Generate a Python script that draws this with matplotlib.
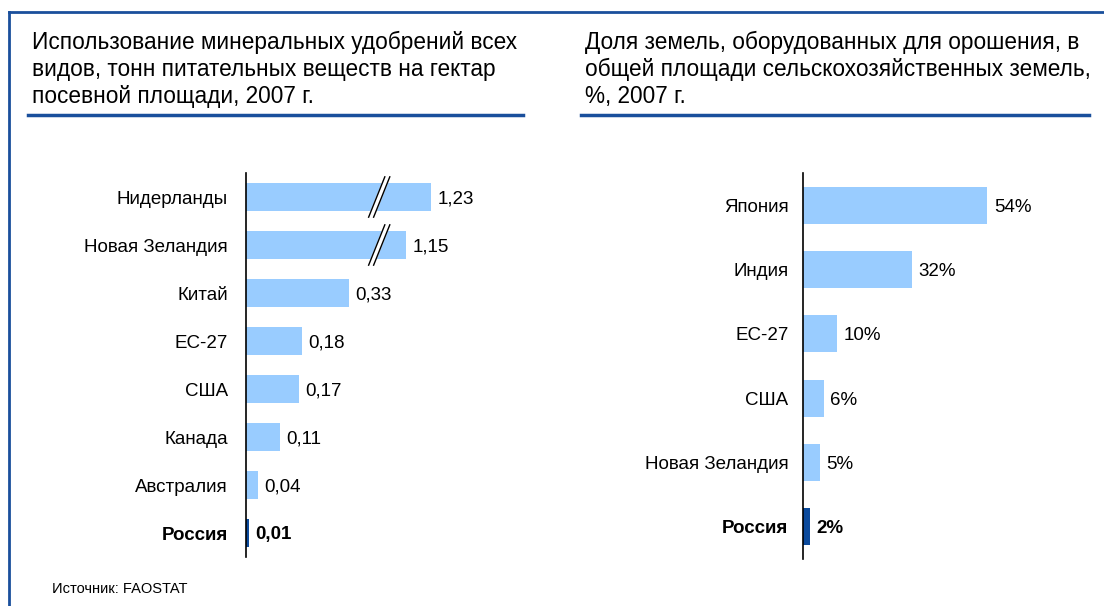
import numpy as np
import matplotlib.pyplot as plt
from matplotlib.lines import Line2D
from matplotlib.patches import Polygon

plt.rcParams['font.family'] = ['Liberation Sans', 'DejaVu Sans']

# data
left_title = ('Использование минеральных удобрений всех\n'
              'видов, тонн питательных веществ на гектар\n'
              'посевной площади, 2007 г.')
left_cats = ['Нидерланды', 'Новая Зеландия', 'Китай', 'ЕС-27', 'США',
             'Канада', 'Австралия', 'Россия']
left_vals = [1.23, 1.15, 0.33, 0.18, 0.17, 0.11, 0.04, 0.01]

right_title = ('Доля земель, оборудованных для орошения, в\n'
               'общей площади сельскохозяйственных земель,\n'
               '%, 2007 г.')
right_cats = ['Япония', 'Индия', 'ЕС-27', 'США', 'Новая Зеландия', 'Россия']
right_vals = [54, 32, 10, 6, 5, 2]

source = 'Источник: FAOSTAT'

# axis break for the long bars
break_above = 0.7
break_gap = 0.635
break_x = 0.42

light = '#99CCFF'
dark = '#0B4A9C'
frame_col = '#1A4F9C'
fs = 13.5

W, H = 1104, 606
fig = plt.figure(figsize=(W / 100, H / 100), dpi=100)


def px(x, y):
    return x / W, 1 - y / H


# frame and title underlines
fig.add_artist(Line2D([9 / W, 1], [1 - 12 / H] * 2, color=frame_col, lw=2))
fig.add_artist(Line2D([9 / W] * 2, [0, 1 - 12 / H], color=frame_col, lw=2))
fig.add_artist(Line2D([28 / W, 523 / W], [1 - 115 / H] * 2, color=frame_col, lw=2.5))
fig.add_artist(Line2D([581 / W, 1089 / W], [1 - 115 / H] * 2, color=frame_col, lw=2.5))

fig.text(*px(32, 31), left_title, fontsize=16.3, va='top', ha='left', linespacing=1.22)
fig.text(*px(585, 31), right_title, fontsize=16.3, va='top', ha='left', linespacing=1.22)
fig.text(*px(52, 589), source, fontsize=10.5, va='center', ha='left')


def hbar(ax, cats, shown, labels, height, pad):
    y = np.arange(len(cats))
    colors = [light] * (len(cats) - 1) + [dark]
    ax.barh(y, shown, height=height, color=colors)
    ax.set_ylim(len(cats) - 0.5, -0.5)
    ax.set_yticks(y)
    ax.set_yticklabels(cats, fontsize=fs, va='center_baseline')
    ax.tick_params(axis='y', length=0, pad=pad)
    ax.set_xticks([])
    for s in ['top', 'right', 'bottom']:
        ax.spines[s].set_visible(False)
    ax.spines['left'].set_linewidth(1.2)
    ax.spines['left'].set_zorder(3)
    ax.get_yticklabels()[-1].set_fontweight('bold')
    for i, (v, t) in enumerate(zip(shown, labels)):
        ax.annotate(t, (v, i), xytext=(4.5, 0), textcoords='offset points',
                    va='center_baseline', ha='left', fontsize=fs,
                    fontweight='bold' if i == len(cats) - 1 else 'normal')


# left chart
axl = fig.add_axes([246 / W, 49 / H, 249 / W, 384 / H])
axl.set_xlim(0, 0.8)
shown_l = [v - break_gap if v > break_above else v for v in left_vals]
labels_l = [f'{v:.2f}'.replace('.', ',') for v in left_vals]
hbar(axl, left_cats, shown_l, labels_l, 0.58, 13)
for i, v in enumerate(left_vals):
    if v > break_above:
        h = 0.42
        dx = 0.026
        g = 0.016
        x0 = break_x
        axl.add_patch(Polygon([(x0 - dx, i + h), (x0 + dx, i - h),
                               (x0 + dx + g, i - h), (x0 - dx + g, i + h)],
                              closed=True, color='white', zorder=4))
        axl.plot([x0 - dx, x0 + dx], [i + h, i - h], color='black', lw=1, zorder=5)
        axl.plot([x0 - dx + g, x0 + dx + g], [i + h, i - h], color='black', lw=1, zorder=5)

# right chart
axr = fig.add_axes([803 / W, 47 / H, 205 / W, 386 / H])
axr.set_xlim(0, 60)
labels_r = [f'{v}%' for v in right_vals]
hbar(axr, right_cats, right_vals, labels_r, 0.575, 10.5)

fig.savefig('out.png', dpi=100)
